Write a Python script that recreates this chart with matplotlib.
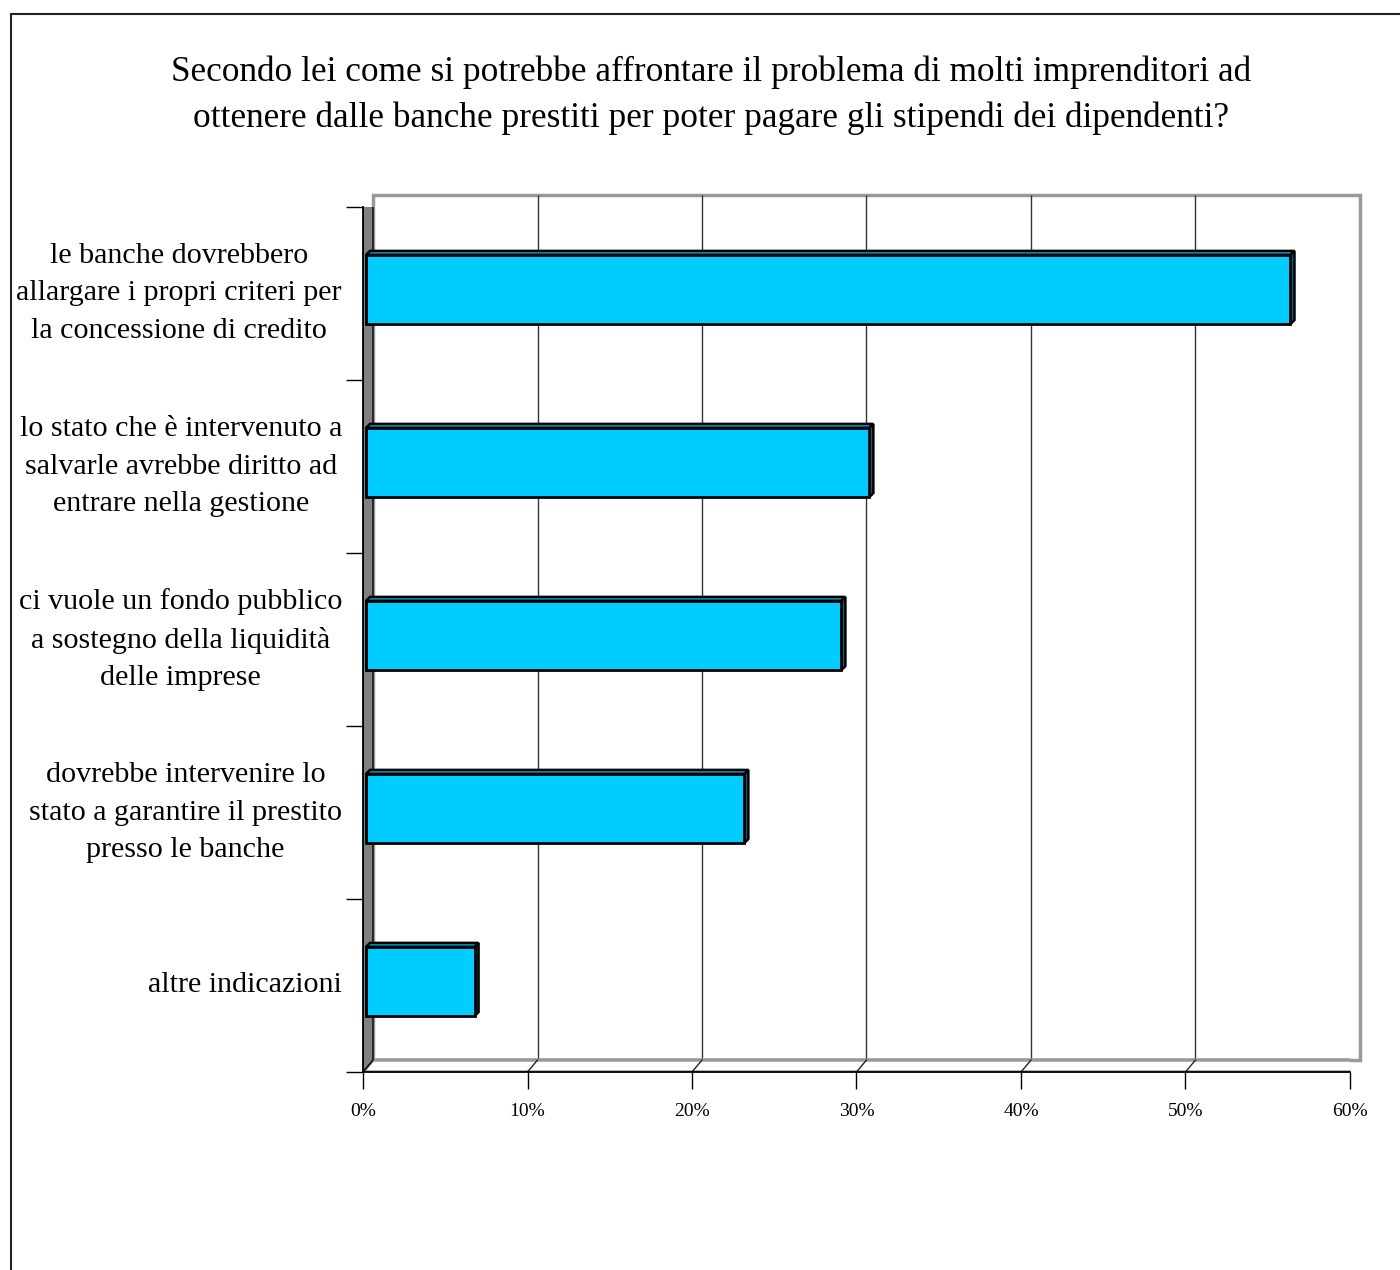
import matplotlib
matplotlib.use("Agg")
import matplotlib.pyplot as plt
from matplotlib.patches import Polygon, Rectangle
from matplotlib.transforms import offset_copy, IdentityTransform

plt.rcParams['font.family'] = ['Liberation Serif', 'DejaVu Serif']

title = ("Secondo lei come si potrebbe affrontare il problema di molti imprenditori ad\n"
         "ottenere dalle banche prestiti per poter pagare gli stipendi dei dipendenti?")

categories = [
    "le banche dovrebbero\nallargare i propri criteri per\nla concessione di credito",
    "lo stato che è intervenuto a\nsalvarle avrebbe diritto ad\nentrare nella gestione",
    "ci vuole un fondo pubblico\na sostegno della liquidità\ndelle imprese",
    "dovrebbe intervenire lo\nstato a garantire il prestito\npresso le banche",
    "altre indicazioni",
]
values = [56.2, 30.6, 28.9, 23.0, 6.6]
xticks = [0, 10, 20, 30, 40, 50, 60]
xtick_labels = ["0%", "10%", "20%", "30%", "40%", "50%", "60%"]

# pixel offsets for the fake 3d depth
BACK = (10, 12)
BAR_FRONT = (3, 4)
BAR_BACK = (7, 8)

W, H = 1400, 1270
fig = plt.figure(figsize=(W / 100, H / 100), dpi=100)
ax = fig.add_axes([363 / W, (H - 1072) / H, 987 / W, 865 / H])
ax.set_xlim(0, 60)
ax.set_ylim(5, 0)
ncat = len(categories)


def px(x, y, off=(0, 0)):
    X, Y = ax.transData.transform((x, y))
    return (X + off[0], Y + off[1])


def plane(off):
    return offset_copy(ax.transData, fig, x=off[0], y=off[1], units='dots')


# back wall + gridlines
back_tr = plane(BACK)
ax.add_patch(Rectangle((0, 0), 60, ncat, transform=back_tr, facecolor='white',
                       edgecolor='#999999', lw=2.5, clip_on=False, zorder=1))
ax.vlines(xticks[1:-1], 0, ncat, transform=back_tr, color='#333333', lw=1,
          clip_on=False, zorder=2)

# floor
ax.add_patch(Polygon([px(0, ncat), px(0, ncat, BACK), px(60, ncat, BACK), px(60, ncat)],
                     closed=True, transform=IdentityTransform(), facecolor='white',
                     edgecolor='#999999', lw=2.5, zorder=2))
for x in xticks[1:-1]:
    a, b = px(x, ncat, BACK), px(x, ncat)
    ax.add_line(plt.Line2D([a[0], b[0]], [a[1], b[1]], transform=IdentityTransform(),
                           color='#222222', lw=1, zorder=3))

# left wall
ax.add_patch(Polygon([px(0, 0), px(0, 0, BACK), px(0, ncat, BACK), px(0, ncat)],
                     closed=True, transform=IdentityTransform(), facecolor='#808080',
                     edgecolor='black', lw=1, zorder=3))

# bars
ypos = [i + 0.5 for i in range(ncat)]
bh = 0.4
for y, v in zip(ypos, values):
    y0, y1 = y - bh / 2, y + bh / 2
    top = [px(0, y0, BAR_FRONT), px(v, y0, BAR_FRONT), px(v, y0, BAR_BACK), px(0, y0, BAR_BACK)]
    side = [px(v, y0, BAR_FRONT), px(v, y1, BAR_FRONT), px(v, y1, BAR_BACK), px(v, y0, BAR_BACK)]
    ax.add_patch(Polygon(top, closed=True, transform=IdentityTransform(),
                         facecolor='#0099cc', edgecolor='black', lw=1.8, zorder=4))
    ax.add_patch(Polygon(side, closed=True, transform=IdentityTransform(),
                         facecolor='#006680', edgecolor='black', lw=1.8, zorder=4))
ax.barh(ypos, values, height=bh, left=0, color='#00ccff', edgecolor='black', lw=2,
        transform=plane(BAR_FRONT), zorder=5, clip_on=False)

# axes, ticks and labels
for s in ['top', 'right']:
    ax.spines[s].set_visible(False)
for s in ['left', 'bottom']:
    ax.spines[s].set_color('black')
    ax.spines[s].set_linewidth(1.3)
    ax.spines[s].set_zorder(6)
ax.set_xticks(xticks)
ax.set_xticklabels(xtick_labels)
ax.set_yticks(range(ncat + 1))
ax.set_yticklabels([])
ax.tick_params(axis='both', length=12, width=1, color='black', direction='out')
ax.tick_params(axis='x', labelsize=14, pad=10)
ax.patch.set_visible(False)

label_tr = offset_copy(ax.transData, fig, x=-21, y=0, units='dots')
for y, lab in zip(ypos, categories):
    ax.text(0, y, lab, transform=label_tr, ha='right', va='center',
            multialignment='center', fontsize=21.6, linespacing=1.56)

fig.text(711 / W, 1 - 95 / H, title, ha='center', va='center', fontsize=25.4,
         linespacing=1.48)

# outer frame, cut by the image edges
fig.patches.append(Rectangle((11 / W, -0.1), 1.2, (H - 14) / H + 0.1,
                             transform=fig.transFigure, fill=False,
                             edgecolor='#222222', lw=1.5))

fig.savefig("out.png", dpi=100)
